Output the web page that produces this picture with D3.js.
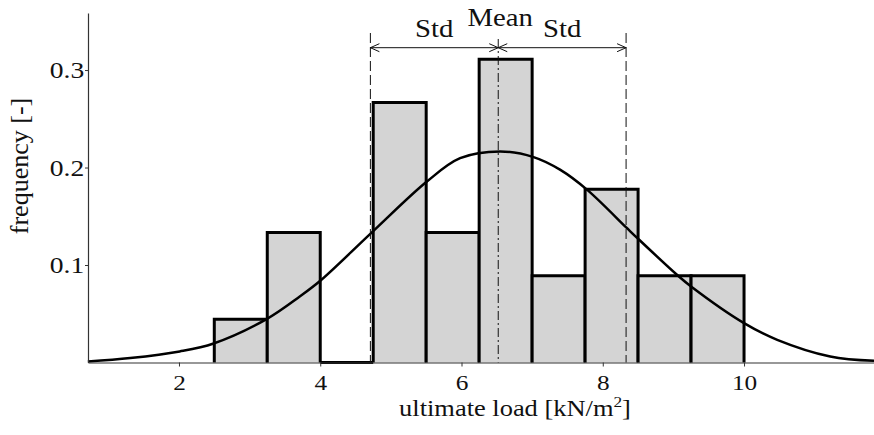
<!DOCTYPE html>
<html>
<head>
<meta charset="utf-8">
<script src="https://cdn.jsdelivr.net/npm/d3@7"></script>
<style>
  body { margin: 0; background: #fff; }
  text { font-family: "Liberation Serif", "Times New Roman", serif; fill: #111; }
  .wide { transform-box: fill-box; transform-origin: center; transform: scaleX(1.15); }
</style>
</head>
<body>
<div id="chart"></div>
<script>
// Histograma (densidade) por classe
var binEdges = [2.5, 3.25, 4.0, 4.75, 5.5, 6.25, 7.0, 7.75, 8.5, 9.25, 10.0];
var frequencies = [0.0444, 0.1333, 0, 0.2667, 0.1333, 0.3111, 0.0889, 0.1778, 0.0889, 0.0889];

// Curva normal ajustada
var curveX = [0.71, 1.31, 2.01, 2.49, 3.24, 3.71, 4.0, 4.72, 5.51, 5.98, 6.55, 7.02, 7.40, 7.78, 8.34, 8.49, 9.05, 9.25, 10.0, 10.47, 11.22, 11.84];
var curveY = [0.001, 0.0045, 0.0113, 0.0195, 0.0445, 0.0677, 0.0838, 0.1327, 0.1856, 0.2096, 0.2165, 0.2107, 0.1976, 0.1771, 0.138, 0.1276, 0.09, 0.078, 0.0404, 0.0233, 0.0062, 0.0017];

// Media e desvio padrao
var meanValue = 6.52;
var stdValue = 1.81;

// Eixos
var xTicks = [2, 4, 6, 8, 10];
var yTicks = [0.1, 0.2, 0.3];
var xLabel = "ultimate load [kN/m";
var yLabel = "frequency [-]";

// Tamanho do svg
var w = 874;
var h = 435;

var svg = d3.select("#chart")
  .append("svg")
  .attr("width", w)
  .attr("height", h);

// Scales
var x = d3.scaleLinear()
  .domain([0.712, 11.84])
  .range([88, 874]);

var y = d3.scaleLinear()
  .domain([0, 0.3585])
  .range([362.5, 13]);

// Barras
var bars = frequencies.map(function(f, i) {
  return {x0: binEdges[i], x1: binEdges[i + 1], f: f};
});

svg.selectAll("bar")
  .data(bars)
  .enter()
  .append("path")
  .attr("d", function(d) {
    return "M" + x(d.x0) + "," + y(0) + "V" + y(d.f) + "H" + x(d.x1) + "V" + y(0);
  })
  .attr("fill", "#d4d4d4")
  .attr("stroke", "#000")
  .attr("stroke-width", 3)
  .attr("stroke-linejoin", "miter");

// Curva
var pts = curveX.map(function(v, i) { return [v, curveY[i]]; });
var line = d3.line()
  .x(function(d) { return x(d[0]); })
  .y(function(d) { return y(d[1]); })
  .curve(d3.curveCatmullRom);

svg.append("path")
  .attr("d", line(pts))
  .attr("fill", "none")
  .attr("stroke", "#000")
  .attr("stroke-width", 2.5);

// Linhas de media e desvio
var topY = 33;
var arrowY = 47.7;
[meanValue - stdValue, meanValue + stdValue].forEach(function(v) {
  svg.append("line")
    .attr("x1", x(v)).attr("x2", x(v))
    .attr("y1", topY).attr("y2", y(0))
    .attr("stroke", "#111")
    .attr("stroke-width", 1)
    .attr("stroke-dasharray", "10,4");
});
svg.append("line")
  .attr("x1", x(meanValue)).attr("x2", x(meanValue))
  .attr("y1", topY + 6).attr("y2", y(0))
  .attr("stroke", "#111")
  .attr("stroke-width", 1)
  .attr("stroke-dasharray", "9,3,2,3");

// Setas
function arrow(a, b) {
  var xa = x(a), xb = x(b);
  var dir = xb > xa ? 1 : -1;
  svg.append("line")
    .attr("x1", xa).attr("x2", xb)
    .attr("y1", arrowY).attr("y2", arrowY)
    .attr("stroke", "#111").attr("stroke-width", 1);
  [[xa, -dir], [xb, dir]].forEach(function(p) {
    svg.append("path")
      .attr("d", "M" + (p[0] - p[1] * 9) + "," + (arrowY - 4) + "L" + p[0] + "," + arrowY + "L" + (p[0] - p[1] * 9) + "," + (arrowY + 4))
      .attr("fill", "none").attr("stroke", "#111").attr("stroke-width", 1);
  });
}
arrow(meanValue - stdValue, meanValue);
arrow(meanValue, meanValue + stdValue);

svg.append("text")
  .attr("class", "wide")
  .attr("x", (x(meanValue - stdValue) + x(meanValue)) / 2)
  .attr("y", 37)
  .attr("text-anchor", "middle")
  .attr("font-size", "25px")
  .text("Std");
svg.append("text")
  .attr("class", "wide")
  .attr("x", (x(meanValue + stdValue) + x(meanValue)) / 2)
  .attr("y", 37)
  .attr("text-anchor", "middle")
  .attr("font-size", "25px")
  .text("Std");
svg.append("text")
  .attr("class", "wide")
  .attr("x", x(meanValue) + 2)
  .attr("y", 26)
  .attr("text-anchor", "middle")
  .attr("font-size", "25px")
  .text("Mean");

// Eixo x
var xAxis = d3.axisBottom(x).tickValues(xTicks).tickSize(4).tickSizeOuter(0).tickPadding(8)
  .tickFormat(d3.format("d"));
var gx = svg.append("g")
  .attr("transform", "translate(0," + y(0) + ")")
  .call(xAxis);

// Eixo y
var yAxis = d3.axisLeft(y).tickValues(yTicks).tickSize(3).tickSizeOuter(0).tickPadding(3)
  .tickFormat(d3.format(".1f"));
var gy = svg.append("g")
  .attr("transform", "translate(" + x.range()[0] + ",0)")
  .call(yAxis);

gx.selectAll(".tick text").attr("font-size", "22px");
gy.selectAll(".tick text").attr("font-size", "24px");
[gx, gy].forEach(function(g) {
  g.select(".domain").attr("stroke", "#333").attr("stroke-width", 1.2);
  g.selectAll(".tick line").attr("stroke", "#333");
  g.selectAll(".tick text")
    .attr("class", "wide")
    .attr("font-family", null)
    .attr("fill", "#111");
});

// Titulos dos eixos
var xt = svg.append("text")
  .attr("class", "wide")
  .attr("x", 515)
  .attr("y", 416)
  .attr("text-anchor", "middle")
  .attr("font-size", "23px");
xt.append("tspan").text(xLabel);
xt.append("tspan").attr("dy", -9).attr("font-size", "15px").text("2");
xt.append("tspan").attr("dy", 9).text("]");

svg.append("g")
  .attr("transform", "translate(28,166) rotate(-90)")
  .append("text")
  .attr("text-anchor", "middle")
  .attr("font-size", "26px")
  .text(yLabel);
</script>
</body>
</html>
